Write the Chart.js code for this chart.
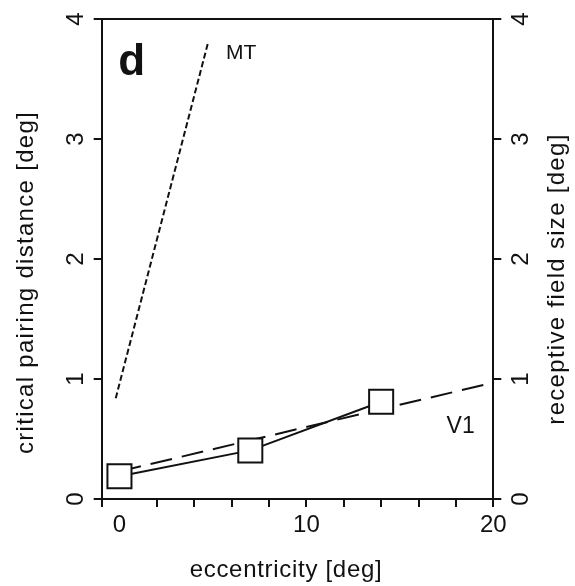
<!DOCTYPE html>
<html>
<head>
<meta charset="utf-8">
<script src="https://cdn.jsdelivr.net/npm/chart.js@4/dist/chart.umd.min.js"></script>
<style>
  html, body { margin: 0; padding: 0; background: #fff; }
  #wrap { width: 575px; height: 586px; position: relative; }
</style>
</head>
<body>
<div id="wrap"><canvas id="panelD"></canvas></div>
<script>
// data
const eccentricity = [0, 7, 14];
const pairingDistance = [0.19, 0.405, 0.81];

const v1Ecc = [0, 20];
const v1Size = [0.23, 0.97];

const mtEcc = [-0.2, 4.75];
const mtSize = [0.84, 3.81];

const xTickLabels = [0, 10, 20];
const yTickLabels = [0, 1, 2, 3, 4];

const ink = '#111';
const fontFamily = '"Liberation Sans", Arial, Helvetica, sans-serif';
Chart.defaults.font.family = fontFamily;
Chart.defaults.color = ink;

function toPoints(xs, ys) {
    return xs.map((v, i) => ({ x: v, y: ys[i] }));
}

// text drawn rotated -90deg, baseline at bx, centred on cy
function rotText(ctx, txt, bx, cy) {
    ctx.save();
    ctx.translate(bx, cy);
    ctx.rotate(-Math.PI / 2);
    ctx.textAlign = 'center';
    ctx.textBaseline = 'alphabetic';
    ctx.fillText(txt, 0, 0);
    ctx.restore();
}

const panelText = {
    id: 'panelText',
    afterDraw(chart) {
        const ctx = chart.ctx;
        const xs = chart.scales.x;
        const ys = chart.scales.y;
        const area = chart.chartArea;
        ctx.save();
        ctx.fillStyle = ink;

        // tick labels
        ctx.font = '24px ' + fontFamily;
        ctx.textAlign = 'center';
        ctx.textBaseline = 'alphabetic';
        xTickLabels.forEach(v => {
            ctx.fillText(String(v), xs.getPixelForValue(v), area.bottom + 33);
        });
        yTickLabels.forEach(v => {
            rotText(ctx, String(v), area.left - 18.5, ys.getPixelForValue(v));
            rotText(ctx, String(v), area.right + 35, ys.getPixelForValue(v));
        });

        // axis titles
        ctx.font = '24px ' + fontFamily;
        ctx.textAlign = 'center';
        ctx.letterSpacing = '0.7px';
        ctx.fillText('eccentricity [deg]', 286, 577);
        ctx.letterSpacing = '1.3px';
        rotText(ctx, 'critical pairing distance [deg]', 33, 282.5);
        rotText(ctx, 'receptive field size [deg]', 564, 279);
        ctx.letterSpacing = '0px';

        // panel letter and curve labels
        ctx.textAlign = 'left';
        ctx.font = 'bold 44px ' + fontFamily;
        ctx.fillText('d', xs.getPixelForValue(-0.07), ys.getPixelForValue(3.53));
        ctx.font = '21px ' + fontFamily;
        ctx.fillText('MT', xs.getPixelForValue(5.7), ys.getPixelForValue(3.67));
        ctx.font = '23px ' + fontFamily;
        ctx.fillText('V1', xs.getPixelForValue(17.5), ys.getPixelForValue(0.554));
        ctx.restore();
    }
};

const axisLine = { display: true, color: ink, width: 2 };
const outTicks = { display: true, drawOnChartArea: false, drawTicks: true, tickLength: 8, color: ink, lineWidth: 2 };

new Chart(document.getElementById('panelD'), {
    type: 'line',
    data: {
        datasets: [{
            label: 'pairing distance',
            data: toPoints(eccentricity, pairingDistance),
            borderColor: ink,
            borderWidth: 2,
            pointStyle: 'rect',
            pointRadius: 17,
            pointBorderWidth: 2,
            pointBackgroundColor: '#fff',
            pointBorderColor: ink,
            fill: false
        }, {
            label: 'V1',
            data: toPoints(v1Ecc, v1Size),
            borderColor: ink,
            borderWidth: 2,
            borderDash: [22, 10],
            pointRadius: 0,
            fill: false
        }, {
            label: 'MT',
            data: toPoints(mtEcc, mtSize),
            borderColor: ink,
            borderWidth: 2,
            borderDash: [6, 3],
            pointRadius: 0,
            fill: false
        }]
    },
    options: {
        responsive: true,
        maintainAspectRatio: false,
        animation: false,
        layout: { padding: { left: 93.7, top: 15, right: 73.7, bottom: 79 } },
        plugins: { legend: { display: false }, tooltip: { enabled: false } },
        scales: {
            x: {
                type: 'linear', position: 'bottom', min: -0.95, max: 20,
                ticks: { display: false, stepSize: 2 },
                grid: outTicks, border: axisLine
            },
            xTop: {
                type: 'linear', position: 'top', display: true, min: -0.95, max: 20,
                ticks: { display: false },
                grid: { display: false, drawTicks: false }, border: axisLine
            },
            y: {
                type: 'linear', position: 'left', min: 0, max: 4,
                ticks: { display: false, stepSize: 1 },
                grid: outTicks, border: axisLine
            },
            y2: {
                type: 'linear', position: 'right', display: true, min: 0, max: 4,
                ticks: { display: false, stepSize: 1 },
                grid: outTicks, border: axisLine
            }
        }
    },
    plugins: [panelText]
});
</script>
</body>
</html>
